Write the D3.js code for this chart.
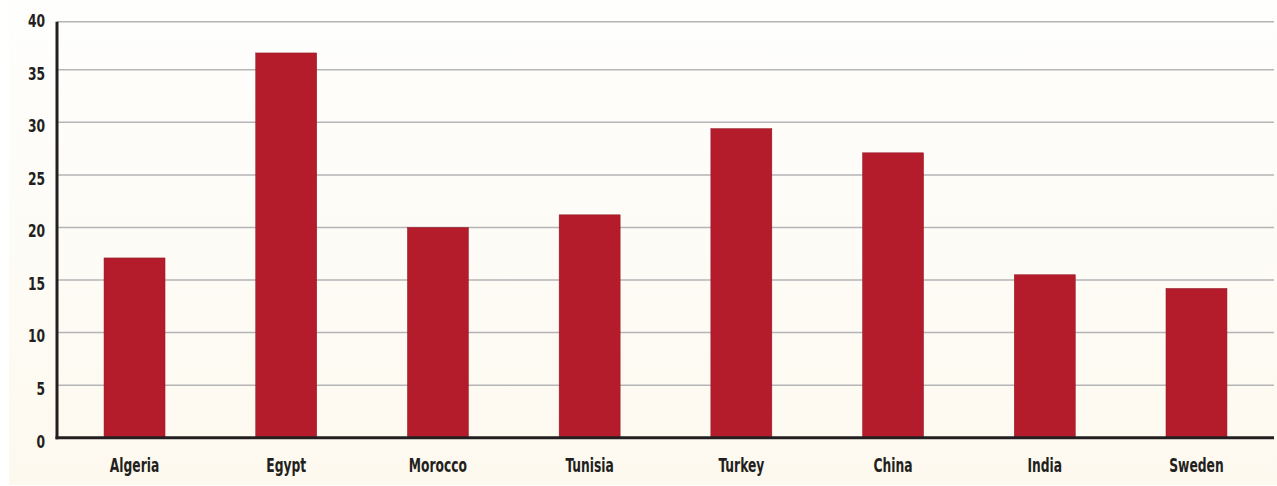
<!DOCTYPE html>
<html>
<head>
<meta charset="utf-8">
<script src="https://cdn.jsdelivr.net/npm/d3@7"></script>
<style>
  html, body { margin: 0; padding: 0; background: #ffffff; }
  svg { display: block; }
  text { font-family: "DejaVu Sans Condensed", "DejaVu Sans", sans-serif; font-stretch: condensed; font-weight: bold; fill: #231f20; }
</style>
</head>
<body>
<div id="chart"></div>
<script>
// Categories and values
const countries = ["Algeria", "Egypt", "Morocco", "Tunisia", "Turkey", "China", "India", "Sweden"];
const values = [17.1, 36.6, 20.0, 21.2, 29.4, 27.1, 15.5, 14.2];
const yTicks = [0, 5, 10, 15, 20, 25, 30, 35, 40];

const W = 1277, H = 486;
const plot = { left: 57, right: 1274, bottom: 437.7, top: 17.2 };

const svg = d3.select("#chart").append("svg")
  .attr("width", W).attr("height", H);

// Soft cream panel behind the chart
const defs = svg.append("defs");
const grad = defs.append("linearGradient")
  .attr("id", "panel").attr("x1", 0).attr("y1", 0).attr("x2", 0).attr("y2", 1);
grad.append("stop").attr("offset", "0%").attr("stop-color", "#fefefd");
grad.append("stop").attr("offset", "100%").attr("stop-color", "#fdf9ef");
svg.append("rect")
  .attr("x", 9).attr("y", 0).attr("width", W - 9).attr("height", 485)
  .attr("fill", "url(#panel)");

const x = d3.scaleBand()
  .domain(countries)
  .range([plot.left, plot.right])
  .paddingInner(0.598)
  .paddingOuter(0.31);

const y = d3.scaleLinear()
  .domain([0, 40])
  .range([plot.bottom, plot.top]);

// The frame top sits just under the 40 mark
const frameTop = y(39.57);

// Horizontal gridlines
svg.append("g")
  .selectAll("line")
  .data(yTicks.filter(d => d > 0))
  .join("line")
  .attr("x1", plot.left)
  .attr("x2", plot.right)
  .attr("y1", d => d === 40 ? frameTop : y(d))
  .attr("y2", d => d === 40 ? frameTop : y(d))
  .attr("stroke", "#b5b5b7")
  .attr("stroke-width", 1.5);

// Bars
svg.append("g")
  .selectAll("rect")
  .data(countries.map((c, i) => ({ c, v: values[i] })))
  .join("rect")
  .attr("x", d => x(d.c))
  .attr("width", x.bandwidth())
  .attr("y", d => y(d.v))
  .attr("height", d => y(0) - y(d.v))
  .attr("fill", "#b41c2b")
  .attr("stroke", "#8e1622")
  .attr("stroke-width", 0.5);

// Narrow lettering: squeeze each label horizontally around its anchor
const yScaleX = 0.76, xScaleX = 0.72;

// Y axis labels
const yAxis = d3.axisLeft(y)
  .tickValues(yTicks)
  .tickSize(0)
  .tickPadding(12)
  .tickFormat(d3.format("d"));
const gy = svg.append("g")
  .attr("transform", `translate(${plot.left},0)`)
  .call(yAxis);
gy.select(".domain").remove();
gy.attr("font-family", null).attr("font-size", null);
gy.selectAll("text")
  .attr("font-size", 18)
  .attr("dy", "0.52em")
  .attr("x", -12 / yScaleX)
  .attr("transform", `scale(${yScaleX},1)`);

// X axis labels
const xAxis = d3.axisBottom(x).tickSize(0).tickPadding(21);
const gx = svg.append("g")
  .attr("transform", `translate(0,${plot.bottom})`)
  .call(xAxis);
gx.select(".domain").remove();
gx.attr("font-family", null).attr("font-size", null);
gx.selectAll("text")
  .attr("font-size", 19)
  .attr("transform", `scale(${xScaleX},1)`);

// Axis lines
svg.append("line")
  .attr("x1", plot.left).attr("x2", plot.left)
  .attr("y1", frameTop).attr("y2", plot.bottom + 1.5)
  .attr("stroke", "#231f20").attr("stroke-width", 3);
svg.append("line")
  .attr("x1", plot.left - 1.5).attr("x2", plot.right)
  .attr("y1", plot.bottom).attr("y2", plot.bottom)
  .attr("stroke", "#231f20").attr("stroke-width", 3);
</script>
</body>
</html>
